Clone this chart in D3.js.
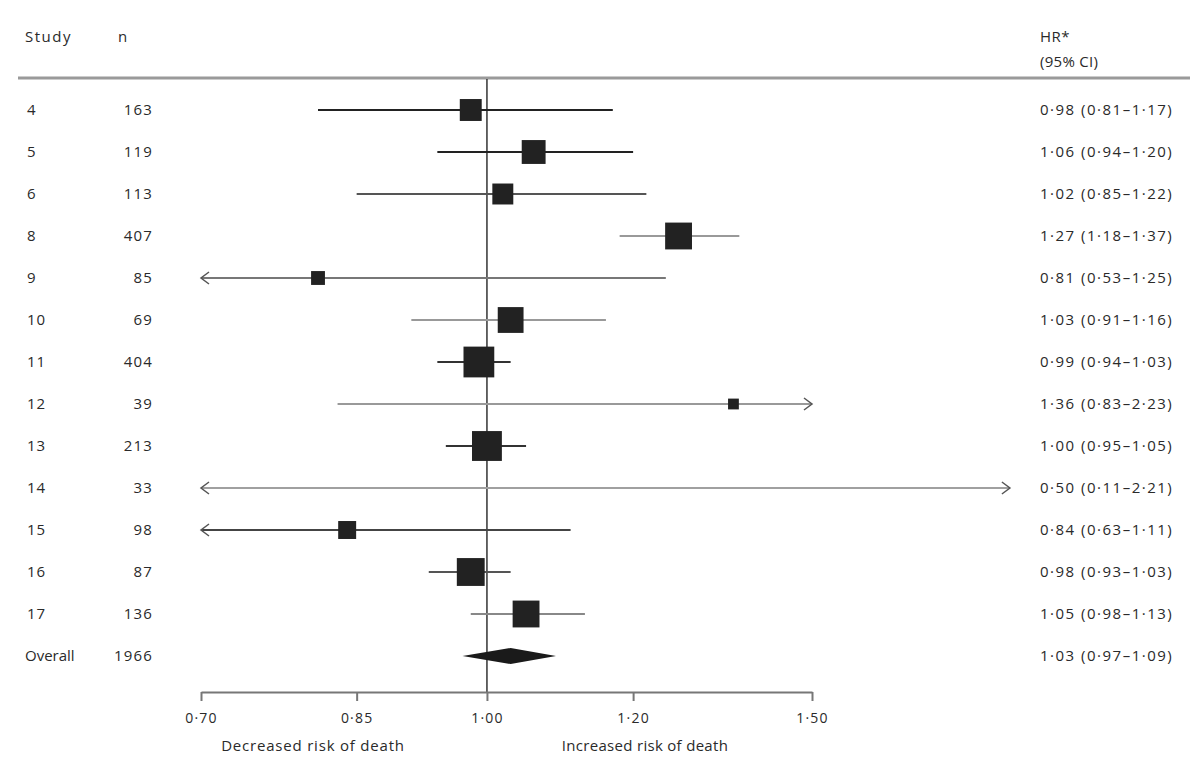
<!DOCTYPE html>
<html><head><meta charset="utf-8">
<script src="https://cdn.jsdelivr.net/npm/d3@7"></script>
<style>
body{margin:0;background:#fff}
svg{display:block}
text{font-family:"Open Sans",sans-serif;fill:#2a2a2a}
</style>
</head><body><svg id="c" width="1200" height="767"></svg>
<script>
// ---- data ----
const studies   = ["4","5","6","8","9","10","11","12","13","14","15","16","17"];
const nPatients = [163,119,113,407,85,69,404,39,213,33,98,87,136];
const hr        = [0.98,1.06,1.02,1.27,0.81,1.03,0.99,1.36,1.00,0.50,0.84,0.98,1.05];
const ciLow     = [0.81,0.94,0.85,1.18,0.53,0.91,0.94,0.83,0.95,0.11,0.63,0.93,0.98];
const ciHigh    = [1.17,1.20,1.22,1.37,1.25,1.16,1.03,2.23,1.05,2.21,1.11,1.03,1.13];
const weights   = [7.0,8.3,6.4,10.5,2.8,9.7,13.8,1.7,13.0,0.3,4.7,11.3,10.5];
// upper value up to which an off-scale interval is drawn (null = axis end)
const drawnUpper = [null,null,null,null,null,null,null,null,null,1.92,null,null,null];
const overallLabel = "Overall";
const overallN = 1966;
const overallHR = 1.03, overallLow = 0.97, overallHigh = 1.09;
const tickValues = [0.70,0.85,1.00,1.20,1.50];
const leftCaption = "Decreased risk of death";
const rightCaption = "Increased risk of death";

// ---- styles ----
const ciColors = ["#222","#222","#555","#999","#777","#999","#333","#999","#333","#a0a0a0","#444","#555","#888"];

const svg = d3.select("#c");
const x = d3.scaleLog().domain([0.70,1.50]).range([201,812]);
const rows = d3.scalePoint().domain([...studies, overallLabel]).range([110,656]);
const boxSize = d3.scaleSqrt().domain([0,14]).range([0,31]);
const fmt = v => d3.format(".2f")(v).replace(".", "\u00B7");
const ciText = (h,l,u) => `${fmt(h)} (${fmt(l)}\u2013${fmt(u)})`;
const fs = 15;

function txt(xp, yp, s, opts={}) {
  const t = svg.append("text").attr("x",xp).attr("y",yp).attr("font-size",opts.size||fs)
    .attr("letter-spacing",opts.ls ?? 1).text(s);
  if (opts.anchor) t.attr("text-anchor",opts.anchor);
  return t;
}

// header
txt(25,42,"Study",{ls:1.5});
txt(118,42,"n");
txt(1040,42,"HR*",{ls:0.5});
txt(1040,67,"(95% CI)",{ls:0.3});
svg.append("line").attr("x1",18).attr("x2",1190).attr("y1",78).attr("y2",78)
  .attr("stroke","#9a9a9a").attr("stroke-width",3);

// reference line
svg.append("line").attr("x1",x(1)).attr("x2",x(1)).attr("y1",79).attr("y2",692)
  .attr("stroke","#333").attr("stroke-width",1.5);

const data = studies.map((s,i)=>({s,n:nPatients[i],hr:hr[i],lo:ciLow[i],hi:ciHigh[i],w:weights[i],lim:drawnUpper[i],col:ciColors[i]}));
const [dMin,dMax] = x.domain();

const g = svg.append("g");
data.forEach(d=>{
  const y = rows(d.s);
  const upLim = d.lim ?? dMax;
  const lo = Math.max(d.lo,dMin), hi = Math.min(d.hi, upLim);
  const x0 = x(lo), x1 = x(hi);
  g.append("line").attr("x1",x0).attr("x2",x1).attr("y1",y).attr("y2",y)
    .attr("stroke",d.col).attr("stroke-width",2);
  if (d.lo < dMin) g.append("path").attr("d",`M${x0+8},${y-6}L${x0},${y}L${x0+8},${y+6}`)
    .attr("fill","none").attr("stroke","#555").attr("stroke-width",1.5);
  if (d.hi > upLim) g.append("path").attr("d",`M${x1-8},${y-6}L${x1},${y}L${x1-8},${y+6}`)
    .attr("fill","none").attr("stroke","#555").attr("stroke-width",1.5);
  if (d.hr >= dMin && d.hr <= dMax) {
    const s = boxSize(d.w);
    g.append("rect").attr("x",x(d.hr)-s/2).attr("y",y-s/2).attr("width",s).attr("height",s)
      .attr("fill","#222");
  }
  txt(27,y+5,d.s,{ls:0.8});
  txt(153,y+5,d.n,{anchor:"end",ls:1.2});
  txt(1040,y+5,ciText(d.hr,d.lo,d.hi),{ls:1.5});
});

// overall
{
  const y = rows(overallLabel);
  const h = 8;
  g.append("path").attr("d",`M${x(overallLow)},${y}L${x(overallHR)},${y-h}L${x(overallHigh)},${y}L${x(overallHR)},${y+h}Z`)
    .attr("fill","#1a1a1a");
  txt(25,y+5,overallLabel,{ls:0});
  txt(153,y+5,overallN,{anchor:"end",ls:1.2});
  txt(1040,y+5,ciText(overallHR,overallLow,overallHigh),{ls:1.5});
}

// axis
const ax = svg.append("g").attr("transform","translate(0,692)")
  .call(d3.axisBottom(x).tickValues(tickValues).tickSize(9).tickSizeOuter(0).tickFormat(fmt));
ax.select(".domain").attr("stroke","#777").attr("stroke-width",2);
ax.selectAll(".tick line").attr("stroke","#777").attr("stroke-width",2);
ax.selectAll(".tick text").attr("font-family","Open Sans, sans-serif").attr("font-size",14)
  .attr("letter-spacing",1.2).attr("fill","#2a2a2a").attr("y",21).attr("dy","0.71em");

txt(313,751,leftCaption,{anchor:"middle",ls:0.8});
txt(645,751,rightCaption,{anchor:"middle",ls:0.3});
</script>
</body></html>
